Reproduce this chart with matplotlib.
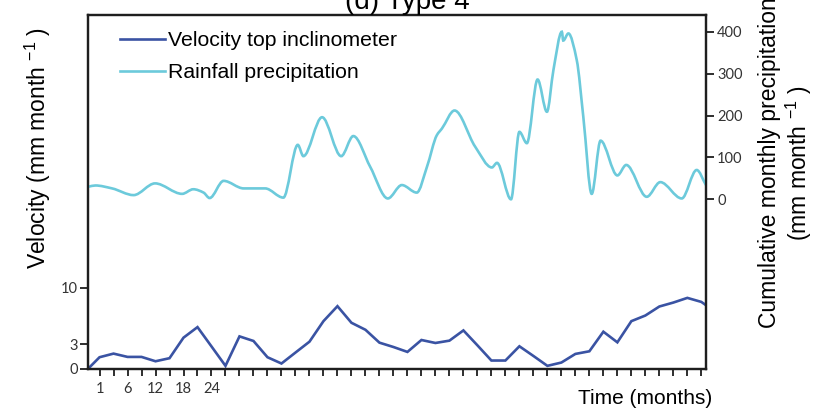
import numpy as np
import matplotlib
matplotlib.use("Agg")
import matplotlib.pyplot as plt
from matplotlib.path import Path
from matplotlib.patches import PathPatch
from matplotlib.lines import Line2D

# velocity of the top inclinometer (mm/month), one value per tick (every 3 months)
vel_months = [-2.4, 0, 3, 6, 9, 12, 15, 18, 21, 24, 27, 30, 33, 36, 39, 42, 45,
              48, 51, 54, 57, 60, 63, 66, 69, 72, 75, 78, 81, 84, 87, 90, 93, 96,
              99, 102, 105, 108, 111, 114, 117, 120, 123, 126, 129, 130]
velocity = [0.0, 1.40, 1.85, 1.44, 1.44, 0.90, 1.28, 3.83, 5.14, 2.74, 0.33,
            3.99, 3.42, 1.40, 0.62, 1.98, 3.33, 5.88, 7.74, 5.68, 4.81, 3.21,
            2.67, 2.06, 3.54, 3.17, 3.46, 4.73, 2.88, 0.99, 0.99, 2.76, 1.56,
            0.33, 0.74, 1.81, 2.14, 4.57, 3.25, 5.88, 6.58, 7.70, 8.19, 8.77,
            8.27, 7.86]

# rainfall precipitation (mm/month)
rain_months = [-2.4, -0.9, 2.7, 7.3, 11.9, 17.7, 20.1, 22.3, 23.6, 26.6, 30.9,
               35.5, 39.4, 42.5, 43.7, 47.7, 51.8, 54.4, 58.0, 61.8, 64.8, 68.0,
               70.2, 72.3, 73.4, 76.1, 80.5, 84.1, 85.2, 88.2, 90.0, 91.6, 93.9,
               95.9, 97.3, 99.1, 99.4, 100.5, 102.3, 103.7, 105.5, 107.4, 111.0,
               112.9, 117.3, 120.2, 124.8, 128.0, 130.0]
rain = [30, 33, 26, 10, 38, 13, 24, 16, 3, 44, 26,
        26, 4, 130, 103, 196, 103, 151, 78, 2, 34, 16,
        78, 153, 169, 212, 126, 76, 87, 0, 161, 134, 286,
        209, 309, 400, 379, 396, 332, 197, 13, 140, 57,
        82, 6, 41, 2, 70, 34]

xtick_pos = [0, 6, 12, 18, 24]
xtick_labels = ['1', '6', '12', '18', '24']
vel_ticks = [0, 3, 10]
rain_ticks = [0, 100, 200, 300, 400]

VEL_COLOR = '#3a53a3'
RAIN_COLOR = '#6ccadb'
plt.rcParams['font.family'] = ['Liberation Sans', 'DejaVu Sans']
plt.rcParams['mathtext.fontset'] = 'custom'
plt.rcParams['mathtext.rm'] = 'Liberation Sans'


def smooth_path(x, y):
    # monotone cubic (pchip) through the points, as bezier segments
    x = np.asarray(x, float)
    y = np.asarray(y, float)
    h = np.diff(x)
    d = np.diff(y) / h
    m = np.zeros_like(y)
    m[0] = d[0]
    m[-1] = d[-1]
    for k in range(1, len(x) - 1):
        if d[k - 1] * d[k] <= 0:
            m[k] = 0
        else:
            w1 = 2 * h[k] + h[k - 1]
            w2 = h[k] + 2 * h[k - 1]
            m[k] = (w1 + w2) / (w1 / d[k - 1] + w2 / d[k])
    verts = [(x[0], y[0])]
    codes = [Path.MOVETO]
    for i in range(len(h)):
        verts.append((x[i] + h[i] / 3, y[i] + m[i] * h[i] / 3))
        verts.append((x[i + 1] - h[i] / 3, y[i + 1] - m[i + 1] * h[i] / 3))
        verts.append((x[i + 1], y[i + 1]))
        codes += [Path.CURVE4] * 3
    return Path(verts, codes)


fig = plt.figure(figsize=(8.24, 4.08), dpi=100)
ax = fig.add_axes([0.1072, 0.0968, 0.7496, 0.8664])
ax2 = ax.twinx()

vel_line, = ax.plot(vel_months, velocity, color=VEL_COLOR, lw=1.9,
                    solid_joinstyle='miter')
ax2.add_patch(PathPatch(smooth_path(rain_months, rain), fill=False,
                        edgecolor=RAIN_COLOR, lw=1.9))

ax.set_xlim(-2.4, 130)
ax.set_ylim(0, 43.9)
ax2.set_ylim(-404, 440)

ax.set_xticks(np.arange(0, 130, 3))
ax.set_xticklabels([xtick_labels[xtick_pos.index(t)] if t in xtick_pos else ''
                    for t in np.arange(0, 130, 3)])
ax.set_yticks(vel_ticks)
ax2.set_yticks(rain_ticks)

for a in (ax, ax2):
    for s in a.spines.values():
        s.set_linewidth(1.6)
        s.set_color('#1e1e1e')
ax.tick_params(axis='x', length=5, width=1.3, pad=5, colors='#1e1e1e',
               labelsize=10.5, labelcolor='#333333')
ax.tick_params(axis='y', length=5.5, width=1.3, pad=2, colors='#1e1e1e',
               labelsize=10.5, labelcolor='#333333')
ax2.tick_params(axis='y', length=5.5, width=1.3, pad=2.5, colors='#1e1e1e',
                labelsize=10.5, labelcolor='#333333')
for lab in ax.get_xticklabels() + ax.get_yticklabels() + ax2.get_yticklabels():
    lab.set_family(['Lato', 'DejaVu Sans'])

rain_proxy = Line2D([], [], color=RAIN_COLOR, lw=1.9)
ax2.legend([vel_line, rain_proxy],
           ['Velocity top inclinometer', 'Rainfall precipitation'],
           loc='upper left', bbox_to_anchor=(120 / 824, 1 - 31 / 408),
           bbox_transform=fig.transFigure, frameon=False, fontsize=15.3,
           handlelength=2.1, handletextpad=0.15, labelspacing=0.62,
           borderpad=0, borderaxespad=0)

fig.text(407 / 824, 1 - 9 / 408, '(d) Type 4', ha='center', va='baseline',
         fontsize=20)
fig.text(38 / 824, 1 - 148 / 408, 'Velocity (mm month $^{\\mathregular{-1}}$ )',
         rotation=90, ha='center', va='center', fontsize=16.5)
fig.text(786 / 824, 1 - 163 / 408,
         'Cumulative monthly precipitation\n(mm month $^{\\mathregular{-1}}$ )',
         rotation=90, ha='center', va='center', fontsize=16.5,
         multialignment='center', linespacing=1.15)
fig.text(712 / 824, 1 - 398 / 408, 'Time (months)', ha='right', va='center',
         fontsize=15)

fig.savefig('out.png', dpi=100)
